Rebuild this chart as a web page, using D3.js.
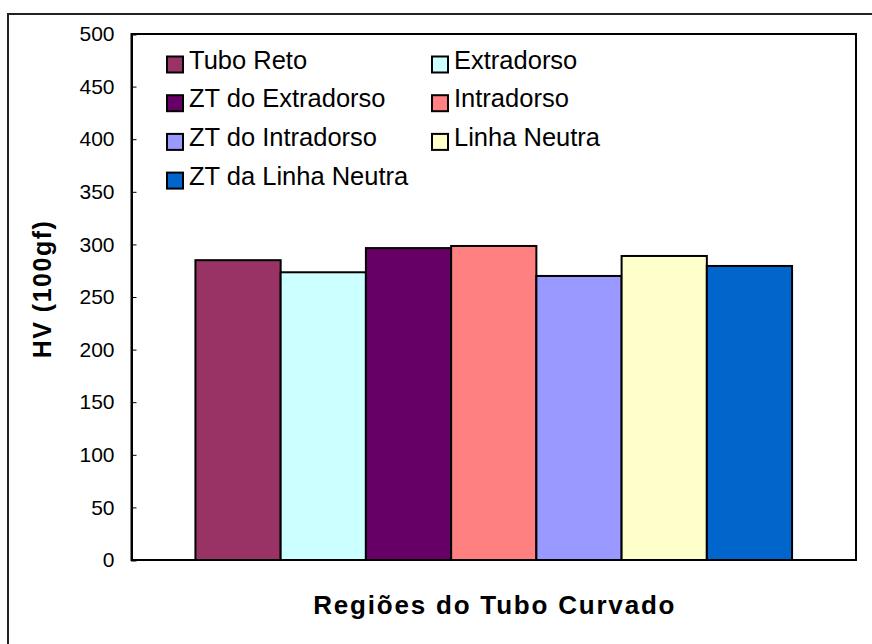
<!DOCTYPE html>
<html>
<head>
<meta charset="utf-8">
<script src="https://cdn.jsdelivr.net/npm/d3@7"></script>
<style>
  html, body { margin: 0; padding: 0; background: #fff; }
  svg { display: block; font-family: "Liberation Sans", Arial, sans-serif; }
</style>
</head>
<body>
<svg id="chart" width="872" height="644"></svg>
<script>
// Vickers hardness by region of the bent tube
const series = ["Tubo Reto", "Extradorso", "ZT do Extradorso", "Intradorso",
                "ZT do Intradorso", "Linha Neutra", "ZT da Linha Neutra"];
const hardness = [285, 273.5, 296.5, 298.5, 270, 289, 279.5];
const colors = ["#993366", "#CCFFFF", "#660066", "#FF8080",
                "#9999FF", "#FFFFCC", "#0066CC"];
const yTicks = [0, 50, 100, 150, 200, 250, 300, 350, 400, 450, 500];

const svg = d3.select("#chart");
const plot = { left: 131.5, top: 34, right: 856, bottom: 560 };

// outer chart frame (runs off the right and bottom edges)
svg.append("rect")
  .attr("x", 8).attr("y", 14).attr("width", 880).attr("height", 650)
  .attr("fill", "#fff").attr("stroke", "#222").attr("stroke-width", 2);

const x = d3.scaleBand()
  .domain(series)
  .range([plot.left, plot.right])
  .paddingInner(0)
  .paddingOuter(0.75);

const y = d3.scaleLinear().domain([0, 500]).range([plot.bottom, plot.top]);

// bars
svg.append("g").selectAll("rect")
  .data(series)
  .join("rect")
  .attr("x", d => x(d))
  .attr("width", x.bandwidth())
  .attr("y", (d, i) => y(hardness[i]))
  .attr("height", (d, i) => y(0) - y(hardness[i]))
  .attr("fill", (d, i) => colors[i])
  .attr("stroke", "#000")
  .attr("stroke-width", 2);

// plot area border
svg.append("rect")
  .attr("x", plot.left).attr("y", plot.top)
  .attr("width", plot.right - plot.left).attr("height", plot.bottom - plot.top)
  .attr("fill", "none").attr("stroke", "#000").attr("stroke-width", 2);

// y axis with inward ticks
const yAxis = d3.axisLeft(y).tickValues(yTicks).tickSize(-5).tickPadding(17);
const gy = svg.append("g")
  .attr("transform", `translate(${plot.left},0)`)
  .call(yAxis);
gy.select(".domain").attr("stroke", "#000").attr("stroke-width", 2);
gy.selectAll(".tick line").attr("stroke", "#000").attr("stroke-width", 1);
gy.selectAll(".tick text")
  .attr("font-family", "Liberation Sans, Arial, sans-serif")
  .attr("font-size", 21).attr("fill", "#000");

// legend: two columns, filled row by row
const legend = svg.append("g");
const colX = [167, 432];
const rowY0 = 64.5, rowStep = 38.7, box = 16;
series.forEach((name, i) => {
  const cx = colX[i % 2];
  const cy = rowY0 + Math.floor(i / 2) * rowStep;
  const g = legend.append("g");
  g.append("rect")
    .attr("x", cx).attr("y", cy - box / 2)
    .attr("width", box).attr("height", box)
    .attr("fill", colors[i]).attr("stroke", "#000").attr("stroke-width", 2);
  g.append("text")
    .attr("x", cx + box + 6).attr("y", cy + 4)
    .attr("font-size", 25.5).attr("fill", "#000")
    .text(name);
});

// axis titles
svg.append("text")
  .attr("x", (plot.left + plot.right) / 2 + 1).attr("y", 614)
  .attr("text-anchor", "middle")
  .attr("font-size", 26).attr("font-weight", "bold")
  .attr("letter-spacing", 1.8)
  .text("Regiões do Tubo Curvado");

svg.append("text")
  .attr("transform", "translate(51,289) rotate(-90)")
  .attr("text-anchor", "middle")
  .attr("font-size", 25).attr("font-weight", "bold")
  .attr("letter-spacing", 1.5)
  .text("HV (100gf)");
</script>
</body>
</html>
